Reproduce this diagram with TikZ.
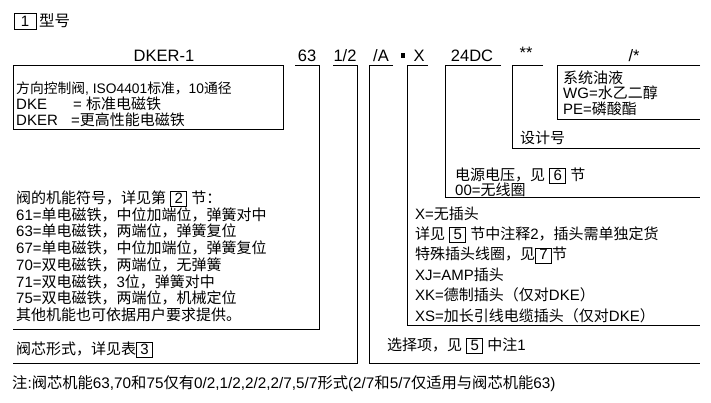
\documentclass[tikz,border=0pt]{standalone}
\usepackage{fontspec}
\setmainfont{Liberation Sans}
\newfontfamily\cjkfam{Noto Sans CJK SC}
\newcommand\zh[1]{{\cjkfam #1}}
\newcommand\bnum[1]{{\setlength\fboxsep{0pt}\setlength\fboxrule{0.9pt}\fbox{\makebox[15pt]{\rule[-3pt]{0pt}{14pt}#1}}}}
\begin{document}
\begin{tikzpicture}[x=1pt,y=-1pt,
  txt/.style={anchor=base west,inner sep=0pt,font=\fontsize{15}{18}\selectfont},
  lbl/.style={anchor=base,inner sep=0pt,font=\fontsize{16.5}{18}\selectfont},
  ln/.style={line width=1pt}]
\useasboundingbox (0,0) rectangle (711,402);
% header
\node[draw,line width=0.9pt,minimum width=22pt,minimum height=16pt,inner sep=0pt,font=\fontsize{15}{18}\selectfont] (n1) at (25,21) {1};
\node[anchor=west,inner sep=0pt,font=\fontsize{15.5}{18}\selectfont] (xh) at (39,21) {\zh{型号}};
% top labels
\node[lbl] (l1) at (164,61) {DKER-1};
\node[lbl] (l2) at (307,61) {63};
\node[lbl] (l3) at (345,61) {1/2};
\node[lbl] (l4) at (381,61) {/A};
\node[fill=black,inner sep=0pt,minimum width=4pt,minimum height=5pt] (l5) at (403,55) {};
\node[lbl] (l6) at (419,61) {X};
\node[lbl] (l7) at (472,61) {24DC};
\node[lbl] (l8) at (526,58) {**};
\node[lbl] (l9) at (634,61) {/*};
% brackets
\draw[ln] (13,65) rectangle (283,129);
\draw[ln] (295,65) -- (319,65) -- (319,329) -- (13,329);
\draw[ln] (333,65) -- (357,65) -- (357,363) -- (13,363);
\draw[ln] (393,65) -- (369,65) -- (369,363) -- (700,363);
\draw[ln] (428,65) -- (407,65) -- (407,325) -- (700,325);
\draw[ln] (501,65) -- (445,65) -- (445,197) -- (700,197);
\draw[ln] (543,65) -- (512,65) -- (512,148) -- (700,148);
\draw[ln] (700,65) -- (557,65) -- (557,119) -- (700,119);
% DKER box
\node[txt,font=\fontsize{13.8}{16}\selectfont] (a1) at (16,93) {\zh{方向控制阀}, ISO4401\zh{标准，}10\zh{通径}};
\node[txt] (a2) at (16,109) {\makebox[57pt][l]{DKE}= \zh{标准电磁铁}};
\node[txt] (a3) at (16,125) {\makebox[55pt][l]{DKER}=\zh{更高性能电磁铁}};
% function box
\node[txt] (b1) at (16,203) {\zh{阀的机能符号，详见第} \bnum{2} \zh{节：}};
\node[txt] (b2) at (16,220) {61=\zh{单电磁铁，中位加端位，弹簧对中}};
\node[txt] (b3) at (16,236.6) {63=\zh{单电磁铁，两端位，弹簧复位}};
\node[txt] (b4) at (16,253.4) {67=\zh{单电磁铁，中位加端位，弹簧复位}};
\node[txt] (b5) at (16,270.2) {70=\zh{双电磁铁，两端位，无弹簧}};
\node[txt] (b6) at (16,287) {71=\zh{双电磁铁，}3\zh{位，弹簧对中}};
\node[txt] (b7) at (16,303.8) {75=\zh{双电磁铁，两端位，机械定位}};
\node[txt] (b8) at (16,320.6) {\zh{其他机能也可依据用户要求提供。}};
\node[txt] (c1) at (16,354) {\zh{阀芯形式，详见表}\bnum{3}};
% note
\node[txt,font=\fontsize{15.3}{18}\selectfont] (nt) at (12,388) {\zh{注}:\zh{阀芯机能}63,70\zh{和}75\zh{仅有}0/2,1/2,2/2,2/7,5/7\zh{形式}(2/7\zh{和}5/7\zh{仅适用与阀芯机能}63)};
% /* box
\node[txt] (d1) at (563,83) {\zh{系统油液}};
\node[txt] (d2) at (563,98.5) {WG=\zh{水乙二醇}};
\node[txt] (d3) at (563,114) {PE=\zh{磷酸酯}};
\node[txt] (e1) at (520,143) {\zh{设计号}};
\node[txt] (f1) at (455,180) {\zh{电源电压，见} \bnum{6} \zh{节}};
\node[txt] (f2) at (455,195) {00=\zh{无线圈}};
% X box
\node[txt] (g1) at (415,219) {X=\zh{无插头}};
\node[txt] (g2) at (415,239) {\zh{详见} \bnum{5} \zh{节中注释}2\zh{，插头需单独定货}};
\node[txt] (g3) at (415,259.5) {\zh{特殊插头线圈，见}\bnum{7}\zh{节}};
\node[txt] (g4) at (415,280) {XJ=AMP\zh{插头}};
\node[txt] (g5) at (415,300.5) {XK=\zh{德制插头（仅对}DKE\zh{）}};
\node[txt] (g6) at (415,321) {XS=\zh{加长引线电缆插头（仅对}DKE\zh{）}};
\node[txt] (h1) at (387,350) {\zh{选择项，见} \bnum{5} \zh{中注}1};
\end{tikzpicture}
\end{document}
